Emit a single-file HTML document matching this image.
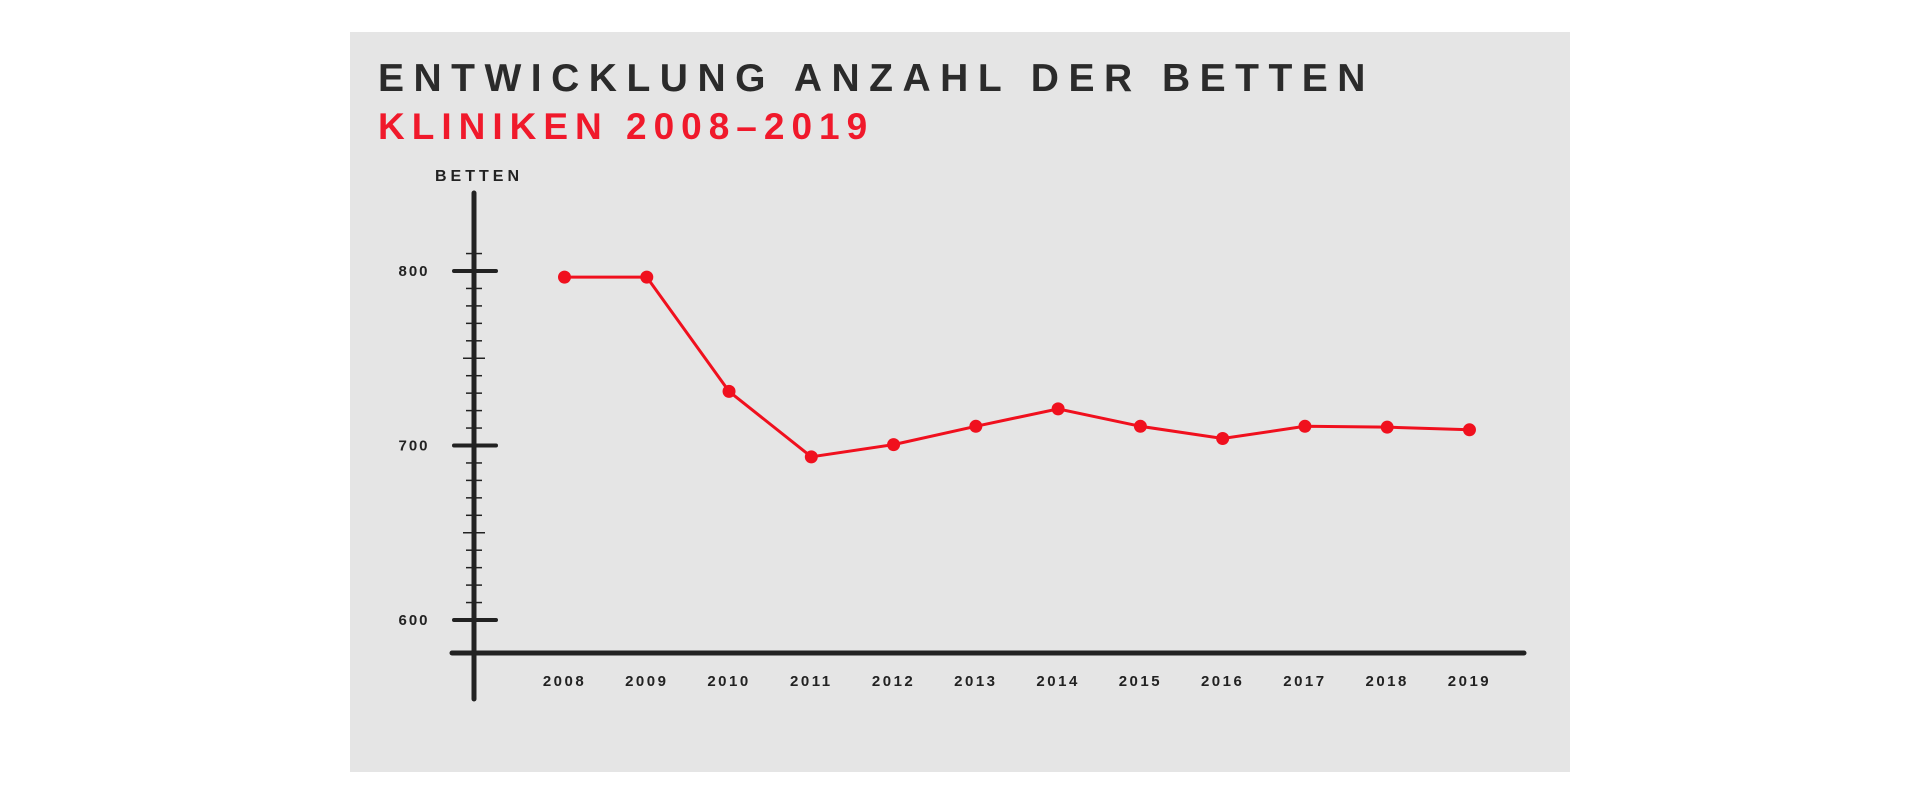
<!DOCTYPE html>
<html><head><meta charset="utf-8"><style>
html,body{margin:0;padding:0;background:#fff;width:1920px;height:802px;overflow:hidden}
svg text{font-family:"Liberation Sans",sans-serif;font-weight:bold}
</style></head><body>
<svg width="1920" height="802">
<rect x="350" y="32" width="1220" height="740" fill="#e5e5e5"/>
<text x="378" y="91" font-size="39" fill="#2b2b2b" letter-spacing="9.5">ENTWICKLUNG ANZAHL DER BETTEN</text>
<text x="378" y="139" font-size="37" fill="#f0192b" letter-spacing="7">KLINIKEN 2008–2019</text>
<text x="479" y="181" font-size="16" fill="#222" letter-spacing="4" text-anchor="middle">BETTEN</text>
<g id="axes"></g><g id="marks"></g>
</svg>
<script>
const years=["2008","2009","2010","2011","2012","2013","2014","2015","2016","2017","2018","2019"];
const beds=[796.5,796.5,731,693.5,700.5,711,721,711,704,711,710.5,709];
const yTicks=[600,700,800];
const NS="http://www.w3.org/2000/svg";
function y(v){return 620-(v-600)*1.745;}
function x(i){return 564.5+i*82.27;}
function mk(tag,attrs,parent){const e=document.createElementNS(NS,tag);for(const k in attrs)e.setAttribute(k,attrs[k]);parent.appendChild(e);return e;}
const ax=document.getElementById('axes'),mg=document.getElementById('marks');
let yl=mk('line',{x1:474,y1:193,x2:474,y2:699,stroke:'#222','stroke-width':5,'stroke-linecap':'round'},ax);


for(let v=600;v<=810;v+=10){
  if(v%100===0)continue;
  const w=(v%50===0)?11:8;
  let t=mk('line',{x1:474-w,x2:474+w,y1:y(v),y2:y(v),stroke:'#222','stroke-width':1.5},ax);
  
  
}
yTicks.forEach(v=>{
  let t=mk('line',{x1:454,x2:496,y1:y(v),y2:y(v),stroke:'#222','stroke-width':4,'stroke-linecap':'round'},ax);
  
  
  let l=mk('text',{x:414,y:y(v)+5,'font-size':15,fill:'#222','text-anchor':'middle','letter-spacing':2},ax);
  l.textContent=v;
  
  
});
let xl=mk('line',{x1:452,y1:653,x2:1524,y2:653,stroke:'#222','stroke-width':5,'stroke-linecap':'round'},ax);


years.forEach((yr,i)=>{
  let l=mk('text',{x:x(i),y:686,'font-size':15,fill:'#222','text-anchor':'middle','letter-spacing':2.5},ax);
  l.textContent=yr;
  
  
});
let p=mk('polyline',{points:beds.map((v,i)=>x(i)+','+y(v)).join(' '),fill:'none',stroke:'#f0101e','stroke-width':3},mg);


beds.forEach((v,i)=>{
  let c=mk('circle',{cx:x(i),cy:y(v),r:6.5,fill:'#f0101e'},mg);
  
  
});
</script>
</body></html>
